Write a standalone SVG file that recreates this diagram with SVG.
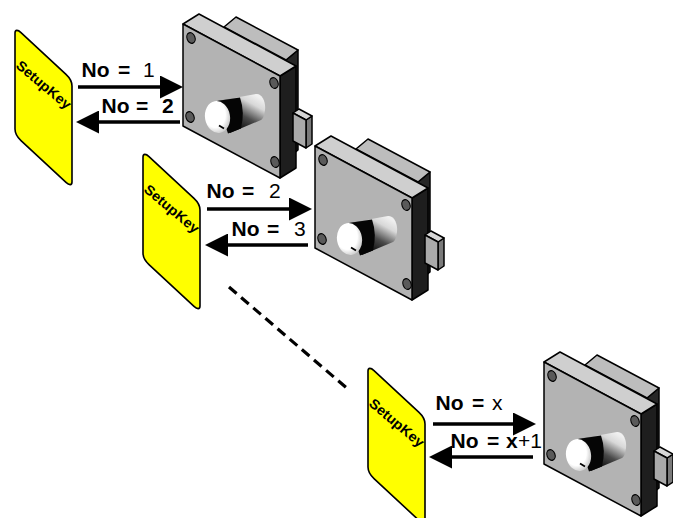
<svg xmlns="http://www.w3.org/2000/svg" xmlns:xlink="http://www.w3.org/1999/xlink" width="673" height="518" viewBox="0 0 673 518">
<style>
.card{fill:#ffff00;stroke:#000;stroke-width:1.6;vector-effect:non-scaling-stroke}
.ktxt{font-family:"Liberation Sans",Arial,sans-serif;font-weight:bold;font-size:14px;fill:#000}
.lbl{font-family:"Liberation Sans",Arial,sans-serif;font-size:21px;fill:#000}
.b{font-weight:bold}
.arr{stroke:#000;stroke-width:3.6;fill:none;marker-end:url(#head)}
.dash{stroke:#000;stroke-width:3.2;fill:none;stroke-dasharray:10 6}
.ol{stroke:#000;stroke-width:1.5;stroke-linejoin:round}
</style>
<defs>
<marker id="head" viewBox="0 -11.5 23 23" refX="0" refY="0" markerWidth="23" markerHeight="23" markerUnits="userSpaceOnUse" orient="auto">
<path d="M0,-11.5 L23,0 L0,11.5 Z" fill="#000"/>
</marker>
<linearGradient id="cyl" gradientUnits="userSpaceOnUse" x1="56" y1="104" x2="74" y2="72">
<stop offset="0" stop-color="#111"/>
<stop offset="0.35" stop-color="#4a4a4a"/>
<stop offset="0.75" stop-color="#d8d8d8"/>
<stop offset="1" stop-color="#f0f0f0"/>
</linearGradient>
<radialGradient id="face" cx="0.4" cy="0.38" r="0.7">
<stop offset="0.62" stop-color="#fff"/>
<stop offset="1" stop-color="#bdbdbd"/>
</radialGradient>
<g id="lockShape">
<polygon class="ol" points="103,36 115,26 115,126 103,136" fill="#262626"/>
<polygon class="ol" points="41,3 53,-7 115,26 103,36" fill="#bdbdbd"/>
<polygon class="ol" points="97,52 113,42 113,144 97,154" fill="#1e1e1e"/>
<polygon class="ol" points="0,0 16,-10 113,42 97,52" fill="#cfcfcf"/>
<polygon class="ol" points="0,0 97,52 97,154 0,102" fill="#b3b3b3"/>
<g fill="#5a5a5a" stroke="#000" stroke-width="1.2">
<ellipse cx="8" cy="14" rx="4" ry="5.5" transform="rotate(-20 8 14)"/>
<ellipse cx="91" cy="59" rx="4" ry="5.5" transform="rotate(-20 91 59)"/>
<ellipse cx="7" cy="93" rx="4" ry="5.5" transform="rotate(-20 7 93)"/>
<ellipse cx="92" cy="138" rx="4" ry="5.5" transform="rotate(-20 92 138)"/>
</g>
<path d="M34,77 L73,70 C79,69 83,78 82,86 C81,92 80,95 78,96 L47,109 Z" fill="url(#cyl)"/>
<path d="M34,77 L57,73.5 Q62,88 58,104.5 L45,109.5 Z" fill="#050505"/>
<ellipse cx="34.5" cy="93" rx="12.5" ry="16" transform="rotate(-10 34.5 93)" fill="url(#face)"/>
<line x1="36" y1="101.5" x2="41" y2="104.5" stroke="#000" stroke-width="1.8"/>
<polygon class="ol" points="123,96 129,92 129,120 123,124" fill="#7a7a7a"/>
<polygon class="ol" points="110,89 116,85 129,92 123,96" fill="#d6d6d6"/>
<polygon class="ol" points="110,89 123,96 123,124 110,117" fill="#aaaaaa"/>
</g>
</defs>
<rect width="673" height="518" fill="#fff"/>

<g id="connectors">
<line class="arr" x1="78" y1="87" x2="160" y2="87"/>
<line class="arr" x1="180" y1="122" x2="99" y2="122"/>
<line class="arr" x1="207" y1="209" x2="289" y2="209"/>
<line class="arr" x1="308" y1="245" x2="228" y2="245"/>
<line class="arr" x1="433" y1="424" x2="513" y2="424"/>
<line class="arr" x1="533" y1="457" x2="452" y2="457"/>
<line class="dash" x1="229" y1="287" x2="349" y2="390"/>
</g>

<g id="labels">
<text class="lbl" y="77"><tspan x="81.5" class="b">No</tspan> <tspan x="118" class="b">=</tspan> <tspan x="143">1</tspan></text>
<text class="lbl" y="113"><tspan x="101.5" class="b">No</tspan> <tspan x="136" class="b">=</tspan> <tspan x="162" class="b">2</tspan></text>
<text class="lbl" y="198"><tspan x="206.5" class="b">No</tspan> <tspan x="242" class="b">=</tspan> <tspan x="269">2</tspan></text>
<text class="lbl" y="236"><tspan x="231.5" class="b">No</tspan> <tspan x="267" class="b">=</tspan> <tspan x="294">3</tspan></text>
<text class="lbl" y="410"><tspan x="435.5" class="b">No</tspan> <tspan x="472" class="b">=</tspan> <tspan x="492">x</tspan></text>
<text class="lbl" y="448"><tspan x="450.5" class="b">No</tspan> <tspan x="487" class="b">=</tspan> <tspan x="506" class="b">x</tspan><tspan x="518">+1</tspan></text>
</g>

<g id="card1">
<rect class="card" x="0" y="0" width="57" height="108" rx="6" transform="translate(15,27) matrix(1,0.93,0,1,0,0)"/>
<text class="ktxt" x="15" y="67" textLength="67" lengthAdjust="spacingAndGlyphs" transform="rotate(40 15 67)">SetupKey</text>
</g>
<g id="card2">
<rect class="card" x="0" y="0" width="57" height="108" rx="6" transform="translate(143,151) matrix(1,0.93,0,1,0,0)"/>
<text class="ktxt" x="143" y="191" textLength="67" lengthAdjust="spacingAndGlyphs" transform="rotate(40 143 191)">SetupKey</text>
</g>
<g id="card3">
<rect class="card" x="0" y="0" width="57" height="108" rx="6" transform="translate(368,365) matrix(1,0.93,0,1,0,0)"/>
<text class="ktxt" x="368" y="405" textLength="67" lengthAdjust="spacingAndGlyphs" transform="rotate(40 368 405)">SetupKey</text>
</g>

<g id="lock1" transform="translate(183,24)"><use href="#lockShape" xlink:href="#lockShape"/></g>
<g id="lock2" transform="translate(315,146)"><use href="#lockShape" xlink:href="#lockShape"/></g>
<g id="lock3" transform="translate(544,362)"><use href="#lockShape" xlink:href="#lockShape"/></g>
</svg>
